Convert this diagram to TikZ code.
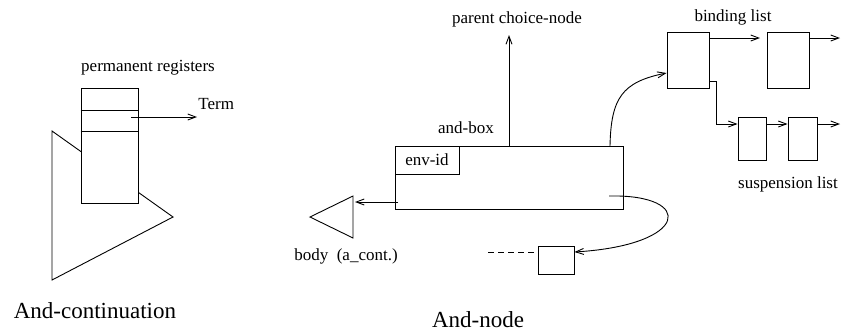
\documentclass[tikz,border=0pt]{standalone}
\usepackage{fontspec}
\setmainfont{Liberation Serif}
\usetikzlibrary{arrows.meta}
\begin{document}
\begin{tikzpicture}[x=1pt,y=-1pt,line width=0.9pt,
  >={Straight Barb[length=8pt,width=6pt]},
  lbl/.style={font=\fontsize{17}{20}\selectfont,inner sep=0pt},
  ttl/.style={font=\fontsize{23}{27}\selectfont,inner sep=0pt},
  cell/.style={draw,fill=white,inner sep=0pt}]
\useasboundingbox (0,0) rectangle (841,333);

% ---------- And-continuation ----------
\coordinate (t1) at (52,131);
\coordinate (t2) at (52,280);
\coordinate (t3) at (173,217);
\draw (t1) -- (t2) -- (t3) -- cycle;
\node[cell,minimum width=57pt,minimum height=115pt] (reg) at (109.5,145.5) {};
\draw (reg.west |- 0,110) -- (reg.east |- 0,110);
\draw (reg.west |- 0,131) -- (reg.east |- 0,131);
\node[lbl] (permlbl) at (148,68) {permanent registers};
\coordinate (regslot) at (131,117);
\node[lbl,anchor=west] (term) at (198,104) {Term};
\coordinate (termend) at (197,117);
\draw[->] (regslot) -- (termend);
\node[ttl] (andcont) at (95,311) {And-continuation};

% ---------- And-node ----------
\node[cell,minimum width=228pt,minimum height=63pt] (andbox) at (509,177.5) {};
\node[draw,inner sep=0pt,minimum width=64pt,minimum height=28pt] (envid) at (427,160) {};
\node[lbl] (envidlbl) at (427,160) {env-id};
\node[lbl] (andboxlbl) at (466,128) {and-box};
\node[lbl] (parent) at (517,19) {parent choice-node};
\coordinate (parentend) at (509,35);
\draw[->] (andbox.north -| 509,0) -- (parentend);

% body triangle
\coordinate (b1) at (310,217);
\coordinate (b2) at (353,196);
\coordinate (b3) at (353,238);
\draw (b1) -- (b2) -- (b3) -- cycle;
\coordinate (bodyin) at (355,202);
\coordinate (andleft) at (398,202);
\draw[->] (andleft) -- (bodyin);
\node[lbl] (bodylbl) at (346,256) {body\ \ (a\_cont.)};

% small box with dashed predecessor
\node[cell,minimum width=36pt,minimum height=28pt] (sbox) at (556,260) {};
\coordinate (dashstart) at (488,252);
\draw[dashed,dash pattern=on 6pt off 4pt] (dashstart) -- (sbox.west |- 0,252);
\coordinate (andright) at (609,196);
\draw[->] (andright) .. controls (695,194) and (690,245) .. (sbox.east |- 0,252);

\node[ttl] (andnode) at (478,320) {And-node};

% binding list
\node[cell,minimum width=42pt,minimum height=56pt] (bl1) at (688,60) {};
\node[cell,minimum width=42pt,minimum height=56pt] (bl2) at (788,60) {};
\node[lbl] (bindlbl) at (733,17) {binding list};
\coordinate (andtop) at (610,146);
\draw[->] (andtop) .. controls (611,98) and (622,82) .. (bl1.west |- 0,73);
\draw[->] (bl1.east |- 0,38) -- (760,38);
\coordinate (blend) at (840,38);
\draw[->] (bl2.east |- 0,38) -- (blend);

% suspension list
\node[cell,minimum width=28pt,minimum height=43pt] (sl1) at (752,138.5) {};
\node[cell,minimum width=29pt,minimum height=43pt] (sl2) at (802.5,138.5) {};
\node[lbl] (susplbl) at (788,184) {suspension list};
\draw[->] (bl1.east |- 0,81) -- (716,81) -- (716,124) -- (sl1.west |- 0,124);
\draw[->] (sl1.east |- 0,124) -- (sl2.west |- 0,124);
\coordinate (slend) at (840,124);
\draw[->] (sl2.east |- 0,124) -- (slend);
\end{tikzpicture}
\end{document}
